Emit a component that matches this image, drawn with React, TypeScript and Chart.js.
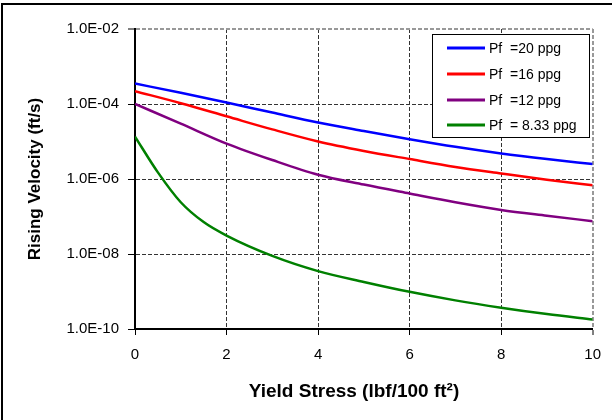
import React, { useEffect, useRef } from "react";
import { Chart, registerables } from "chart.js";

Chart.register(...registerables);

const xValues = [0, 1, 2, 3, 4, 5, 6, 7, 8, 9, 10];
const pf20 = [3.5e-4, 2.0e-4, 1.1e-4, 5.9e-5, 3.2e-5, 1.9e-5, 1.15e-5, 7.2e-6, 4.8e-6, 3.4e-6, 2.5e-6];
const pf16 = [2.2e-4, 1.05e-4, 4.7e-5, 2.1e-5, 1.0e-5, 5.6e-6, 3.4e-6, 2.1e-6, 1.4e-6, 9.5e-7, 6.8e-7];
const pf12 = [1.0e-4, 3.0e-5, 8.8e-6, 3.2e-6, 1.3e-6, 7.1e-7, 4.1e-7, 2.4e-7, 1.5e-7, 1.05e-7, 7.5e-8];
const xGreen = [0, 0.5, 1, 1.5, 2, 3, 4, 5, 6, 7, 8, 9, 10];
const pf833 = [1.35e-5, 1.5e-6, 2.4e-7, 7.1e-8, 3.1e-8, 8.9e-9, 3.5e-9, 1.8e-9, 9.8e-10, 5.8e-10, 3.7e-10, 2.5e-10, 1.8e-10];

const seriesLabels = ["Pf  =20 ppg", "Pf  =16 ppg", "Pf  =12 ppg", "Pf  = 8.33 ppg"];
const seriesColors = ["#0000ff", "#ff0000", "#800080", "#008000"];
const yTickValues = [1e-10, 1e-8, 1e-6, 1e-4, 1e-2];
const xTitle = "Yield Stress (lbf/100 ft\u00b2)";
const yTitle = "Rising Velocity (ft/s)";

const FONT = "'Liberation Sans', Arial, Helvetica, sans-serif";

function fmtExp(v: number): string {
  const e = Math.floor(Math.log10(v) + 1e-9);
  const m = v / Math.pow(10, e);
  const sign = e < 0 ? "-" : "+";
  return `${m.toFixed(1)}E${sign}${String(Math.abs(e)).padStart(2, "0")}`;
}

const pairs = (xs: number[], ys: number[]) => xs.map((x, i) => ({ x, y: ys[i] }));

const frame = {
  id: "frame",
  beforeDraw(chart: any) {
    const ctx = chart.ctx;
    ctx.save();
    ctx.fillStyle = "#ffffff";
    ctx.fillRect(0, 0, chart.width, chart.height);
    ctx.strokeStyle = "#000";
    ctx.lineWidth = 2;
    ctx.beginPath();
    ctx.moveTo(2, chart.height + 2);
    ctx.lineTo(2, 4);
    ctx.lineTo(chart.width + 2, 4);
    ctx.stroke();
    ctx.restore();
  },
  afterDraw(chart: any) {
    const ctx = chart.ctx;
    ctx.save();
    ctx.fillStyle = "#000";
    ctx.font = `bold 19px ${FONT}`;
    ctx.textAlign = "center";
    ctx.textBaseline = "middle";
    ctx.fillText(xTitle, 354, 392);
    ctx.restore();
  },
};

const boxLegend = {
  id: "boxLegend",
  afterDatasetsDraw(chart: any) {
    const ctx = chart.ctx;
    const x0 = 432.5, y0 = 34.5, w = 157, h = 103;
    ctx.save();
    ctx.fillStyle = "#fff";
    ctx.fillRect(x0, y0, w, h);
    ctx.strokeStyle = "#000";
    ctx.lineWidth = 1;
    ctx.strokeRect(x0, y0, w, h);
    const rows = [48, 74, 100, 125];
    chart.data.datasets.forEach((ds: any, i: number) => {
      ctx.strokeStyle = ds.borderColor;
      ctx.lineWidth = 3;
      ctx.beginPath();
      ctx.moveTo(447, rows[i]);
      ctx.lineTo(485, rows[i]);
      ctx.stroke();
      ctx.fillStyle = "#000";
      ctx.font = `14px ${FONT}`;
      ctx.textBaseline = "middle";
      ctx.textAlign = "left";
      ctx.fillText(ds.label, 489, rows[i] + 1);
    });
    ctx.restore();
  },
};

export default function App() {
  const ref = useRef<HTMLCanvasElement | null>(null);
  useEffect(() => {
    if (!ref.current) return;
    const ys = [pf20, pf16, pf12];
    const datasets: any[] = ys.map((arr, i) => ({
      label: seriesLabels[i],
      data: pairs(xValues, arr),
      borderColor: seriesColors[i],
      backgroundColor: seriesColors[i],
      borderWidth: 2.5,
      pointRadius: 0,
      cubicInterpolationMode: "monotone",
      fill: false,
    }));
    datasets.push({
      label: seriesLabels[3],
      data: pairs(xGreen, pf833),
      borderColor: seriesColors[3],
      backgroundColor: seriesColors[3],
      borderWidth: 2.5,
      pointRadius: 0,
      cubicInterpolationMode: "monotone",
      fill: false,
    });
    const chart = new Chart(ref.current, {
      type: "line",
      data: { datasets },
      plugins: [frame, boxLegend],
      options: {
        animation: false,
        responsive: false,
        maintainAspectRatio: false,
        layout: { padding: { left: 0, top: 29, right: 17, bottom: 0 } },
        plugins: { legend: { display: false }, tooltip: { enabled: false } },
        scales: {
          x: {
            type: "linear",
            min: 0,
            max: 10,
            ticks: { stepSize: 2, color: "#000", font: { family: FONT, size: 15 }, padding: 11 },
            grid: {
              color: (c: any) => (c.tick && c.tick.value === 10 ? "#999" : "#333"),
              lineWidth: (c: any) => (c.tick && c.tick.value === 10 ? 2 : 1),
              tickColor: "#000",
              tickLength: 6,
              tickWidth: 1,
            },
            border: { display: true, color: "#000", width: 2, dash: [4, 2] },
            title: { display: false },
            afterFit: (s: any) => {
              s.height = 91;
            },
          },
          y: {
            type: "logarithmic",
            min: 1e-10,
            max: 1e-2,
            afterBuildTicks: (s: any) => {
              s.ticks = yTickValues.map((v) => ({ value: v }));
            },
            ticks: {
              color: "#000",
              font: { family: FONT, size: 15 },
              padding: 9,
              autoSkip: false,
              callback: (v: any) => fmtExp(Number(v)),
            },
            grid: {
              color: (c: any) => (c.tick && c.tick.value === 1e-2 ? "#999" : "#333"),
              lineWidth: (c: any) => (c.tick && c.tick.value === 1e-2 ? 2 : 1),
              tickColor: "#000",
              tickLength: 7,
              tickWidth: 1,
            },
            border: { display: true, color: "#000", width: 2, dash: [4, 2] },
            title: {
              display: true,
              text: yTitle,
              color: "#000",
              font: { family: FONT, size: 17, weight: "bold" },
              padding: { top: 25, bottom: 0 },
            },
            afterFit: (s: any) => {
              s.width = 135;
            },
          },
        },
      },
    } as any);
    return () => chart.destroy();
  }, []);
  return (
    <div style={{ position: "fixed", left: 0, top: 0, width: 612, height: 420, background: "#fff" }}>
      <canvas ref={ref} width={612} height={420} style={{ width: 612, height: 420, display: "block" }} />
    </div>
  );
}
